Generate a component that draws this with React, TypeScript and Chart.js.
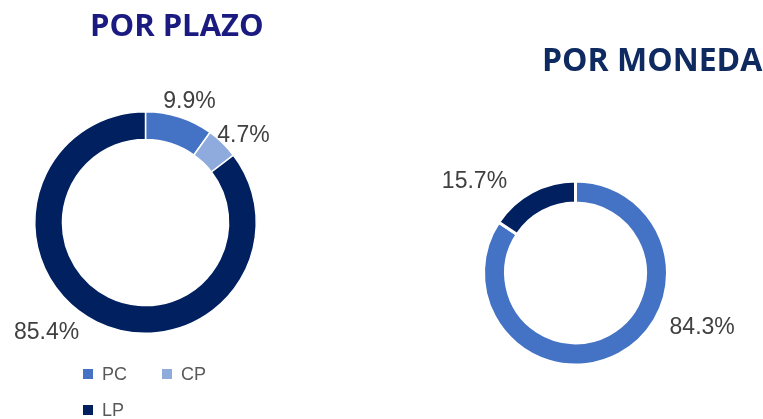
import React, { useEffect, useRef } from "react";
import { Chart, registerables } from "chart.js";

Chart.register(...registerables);

// ---- Data ----
const plazoTitle = "POR PLAZO";
const plazoLabels = ["PC", "CP", "LP"];
const plazoValues = [9.9, 4.7, 85.4];
const plazoColors = ["#4472C4", "#8FAADC", "#002060"];

const monedaTitle = "POR MONEDA";
const monedaLabels = ["Moneda A", "Moneda B"];
const monedaValues = [84.3, 15.7];
const monedaColors = ["#4472C4", "#002060"];

// label placement (polar, relative to the drawn ring): angle in degrees clockwise from top, distance in outer radii
const plazoLabelPlacement = [
  { angle: 20, dist: 1.16 },
  { angle: 48.6, dist: 1.18 },
  { angle: 221.8, dist: 1.34 },
];
const monedaLabelPlacement = [
  { angle: 113.4, dist: 1.5 },
  { angle: 312.1, dist: 1.48 },
];

const LABEL_FONT = '23px "Liberation Sans", Arial, sans-serif';

function makeOverlay(opts: {
  title: string;
  titleColor: string;
  titleFont: string;
  titleX: number;
  titleY: number;
  placement: { angle: number; dist: number }[];
  legend: boolean;
}) {
  return {
    id: "overlay",
    afterDraw(chart: any) {
      const ctx = chart.ctx as CanvasRenderingContext2D;
      const meta = chart.getDatasetMeta(0);
      const values = chart.data.datasets[0].data as number[];
      ctx.save();
      // title
      ctx.font = opts.titleFont;
      ctx.fillStyle = opts.titleColor;
      ctx.textAlign = "left";
      ctx.textBaseline = "middle";
      ctx.fillText(opts.title, opts.titleX, opts.titleY);
      // data labels
      ctx.font = LABEL_FONT;
      ctx.fillStyle = "#404040";
      ctx.textAlign = "center";
      ctx.textBaseline = "middle";
      meta.data.forEach((arc: any, i: number) => {
        const p = opts.placement[i];
        const a = (p.angle * Math.PI) / 180;
        const r = arc.outerRadius * p.dist;
        const x = arc.x + r * Math.sin(a);
        const y = arc.y - r * Math.cos(a);
        ctx.fillText(values[i].toFixed(1) + "%", x, y);
      });
      // legend
      if (opts.legend) {
        const labels = chart.data.labels as string[];
        const colors = chart.data.datasets[0].backgroundColor as string[];
        const slots = [
          { x: 83, y: 374 },
          { x: 162, y: 374 },
          { x: 83, y: 410 },
        ];
        ctx.font = '18px "Liberation Sans", Arial, sans-serif';
        ctx.textAlign = "left";
        labels.forEach((lab, i) => {
          const s = slots[i];
          ctx.fillStyle = colors[i];
          ctx.fillRect(s.x, s.y - 5, 10, 10);
          ctx.fillStyle = "#595959";
          ctx.fillText(lab, s.x + 19, s.y + 1);
        });
      }
      ctx.restore();
    },
  };
}

function Donut(props: {
  labels: string[];
  values: number[];
  colors: string[];
  cutout: string;
  border: number;
  padding: { left: number; right: number; top: number; bottom: number };
  overlay: any;
  width: number;
  height: number;
  left: number;
}) {
  const ref = useRef<HTMLCanvasElement | null>(null);
  useEffect(() => {
    if (!ref.current) return;
    const chart = new Chart(ref.current, {
      type: "doughnut",
      data: {
        labels: props.labels,
        datasets: [
          {
            data: props.values,
            backgroundColor: props.colors,
            borderColor: "#ffffff",
            borderWidth: props.border,
          },
        ],
      },
      options: {
        animation: false,
        responsive: false,
        maintainAspectRatio: false,
        cutout: props.cutout,
        layout: { padding: props.padding },
        plugins: {
          legend: { display: false },
          tooltip: { enabled: false },
          title: { display: false },
        },
      },
      plugins: [props.overlay],
    });
    return () => chart.destroy();
  }, []);
  return (
    <canvas
      ref={ref}
      width={props.width}
      height={props.height}
      style={{ position: "absolute", left: props.left, top: 0, width: props.width, height: props.height }}
    />
  );
}

export default function App() {
  return (
    <div style={{ position: "fixed", left: 0, top: 0, width: 763, height: 419, background: "#ffffff" }}>
      <Donut
        labels={plazoLabels}
        values={plazoValues}
        colors={plazoColors}
        cutout="75%"
        border={1.5}
        padding={{ left: 34, right: 123, top: 111, bottom: 85 }}
        width={380}
        height={419}
        left={0}
        overlay={makeOverlay({
          title: plazoTitle,
          titleColor: "#1A1A80",
          titleFont: 'bold 31px "Open Sans", sans-serif',
          titleX: 90,
          titleY: 27,
          placement: plazoLabelPlacement,
          legend: true,
        })}
      />
      <Donut
        labels={monedaLabels}
        values={monedaValues}
        colors={monedaColors}
        cutout="76%"
        border={3}
        padding={{ left: 102, right: 94, top: 179, bottom: 52 }}
        width={383}
        height={419}
        left={380}
        overlay={makeOverlay({
          title: monedaTitle,
          titleColor: "#0E2A60",
          titleFont: 'bold 32px "Open Sans", sans-serif',
          titleX: 162,
          titleY: 62,
          placement: monedaLabelPlacement,
          legend: false,
        })}
      />
    </div>
  );
}
